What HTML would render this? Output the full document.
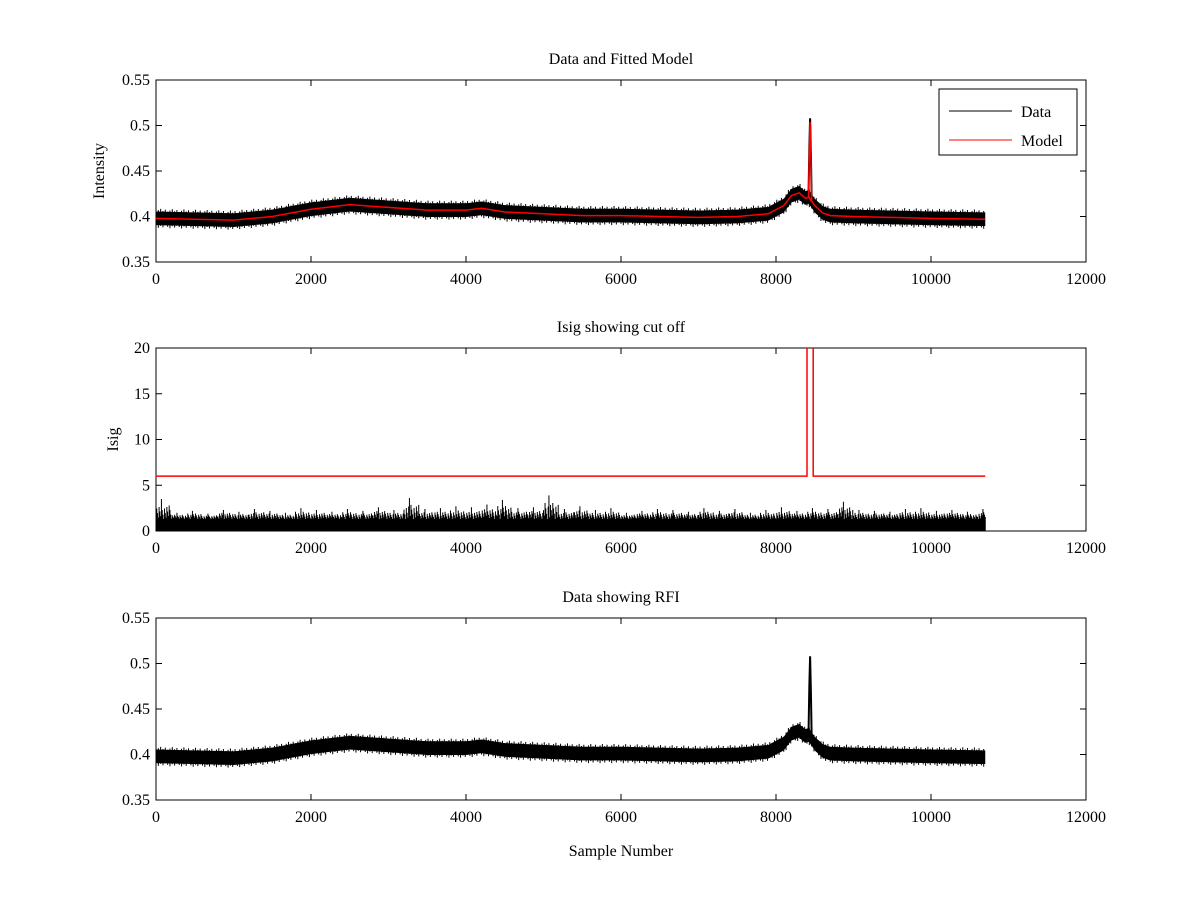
<!DOCTYPE html>
<html><head><meta charset="utf-8"><style>
body{margin:0;background:#fff}
svg text{font-family:"Liberation Serif",serif;fill:#000}
</style></head><body>
<svg width="1200" height="900" xmlns="http://www.w3.org/2000/svg" id="fig"></svg>
<script>
// ---- data ----
const baseX = [0,500,1000,1500,2000,2500,3000,3500,4000,4200,4500,5000,5500,6000,6500,7000,7500,7900,8100,8200,8300,8380,8420,8500,8600,8700,9000,9500,10000,10700];
const baseY = [0.398,0.397,0.396,0.400,0.408,0.413,0.410,0.407,0.407,0.409,0.405,0.403,0.401,0.401,0.400,0.399,0.400,0.403,0.412,0.423,0.426,0.420,0.422,0.412,0.404,0.401,0.400,0.399,0.398,0.397];
const bandHalf = 0.0075;
const edgeHalf = 0.0105;
const rfiX = [8420,8430,8440,8450,8460];
const rfiY = [0.425,0.475,0.508,0.470,0.420];
const intTicks = [0.35,0.4,0.45,0.5,0.55];
const xTicks = [0,2000,4000,6000,8000,10000,12000];
const isigTicks = [0,5,10,15,20];
const isigCut = 6;
const isigCutGapX = [8400,8480];
const isigBase = 1.3;
const isigSpikes = [3.5,2.0,2.2,1.9,2.3,2.1,2.4,2.2,2.0,2.5,2.3,2.1,2.4,2.2,2.6,2.3,3.6,2.4,2.5,2.7,2.6,2.9,3.4,2.5,2.6,3.9,2.4,2.7,2.3,2.5,2.0,2.2,2.4,2.3,2.1,2.5,2.2,2.4,2.0,2.3,2.6,2.2,2.5,2.4,3.2,2.3,2.2,2.1,2.4,2.5,2.2,2.3,2.1,2.4];
const isigSpikeStep = 200;

// ---- drawing ----
const svg = document.getElementById('fig');
const NS = 'http://www.w3.org/2000/svg';
function mk(tag, attrs, parent){const e=document.createElementNS(NS,tag);for(const k in attrs)e.setAttribute(k,attrs[k]);(parent||svg).appendChild(e);return e;}
const X0=156,X1=1086;
const sx = v => X0 + v/12000*(X1-X0);
function interp(x){for(let i=0;i<baseX.length-1;i++){if(x<=baseX[i+1]){const t=(x-baseX[i])/(baseX[i+1]-baseX[i]);return baseY[i]+t*(baseY[i+1]-baseY[i]);}}return baseY[baseY.length-1];}

function axes(name, top, bot, ymin, ymax, yticks, title, ylabel, xlabel){
  const sy = v => bot - (v-ymin)/(ymax-ymin)*(bot-top);
  const g = mk('g',{});
  
  
  const box = mk('rect',{x:X0,y:top,width:X1-X0,height:bot-top,fill:'#fff',stroke:'#000','stroke-width':1},g);
  
  
  xTicks.forEach(t=>{
    const x=sx(t);
    mk('line',{x1:x,x2:x,y1:bot,y2:bot-6,stroke:'#000'},g);
    mk('line',{x1:x,x2:x,y1:top,y2:top+6,stroke:'#000'},g);
    const tx=mk('text',{x:x,y:bot+22,'text-anchor':'middle','font-size':16},g);
    tx.textContent=t;
    
    
  });
  yticks.forEach(t=>{
    const y=sy(t);
    mk('line',{x1:X0,x2:X0+6,y1:y,y2:y,stroke:'#000'},g);
    mk('line',{x1:X1,x2:X1-6,y1:y,y2:y,stroke:'#000'},g);
    const tx=mk('text',{x:X0-6,y:y+5,'text-anchor':'end','font-size':16},g);
    tx.textContent=t;
    
    
  });
  const tt=mk('text',{x:(X0+X1)/2,y:top-16,'text-anchor':'middle','font-size':16},g);
  tt.textContent=title;
  
  
  if(ylabel){
    const yl=mk('text',{x:0,y:0,'text-anchor':'middle','font-size':16,transform:`translate(${ylabel[1]},${(top+bot)/2}) rotate(-90)`},g);
    yl.textContent=ylabel[0];
    
    
  }
  if(xlabel){
    const xl=mk('text',{x:(X0+X1)/2,y:bot+56,'text-anchor':'middle','font-size':16},g);
    xl.textContent=xlabel;
    
    
  }
  return {g,sy};
}

function band(ax, name){
  let up=[],lo=[];
  for(let x=0;x<=10700;x+=25){const v=interp(x);up.push(sx(x)+','+ax.sy(v+bandHalf));lo.unshift(sx(x)+','+ax.sy(v-bandHalf));}
  const p=mk('polygon',{points:up.concat(lo).join(' '),fill:'#000'},ax.g);
  
  
  // ragged edges
  let d='';
  for(let x=0;x<=10700;x+=30){
    const v=interp(x);
    const k=(Math.floor(x/30)*7)%5;
    const e=bandHalf+(edgeHalf-bandHalf)*k/4;
    d+=`M${sx(x)},${ax.sy(v+e)}V${ax.sy(v-(bandHalf+(edgeHalf-bandHalf)*((k+2)%5)/4))}`;
  }
  const ed=mk('path',{d:d,stroke:'#000','stroke-width':1,fill:'none'},ax.g);
  
  
  const r=mk('polyline',{points:rfiX.map((x,i)=>sx(x)+','+ax.sy(rfiY[i])).join(' '),fill:'none',stroke:'#000','stroke-width':2},ax.g);
  
  
}

// Plot 1
const a1=axes('data-model-plot',80,262,0.35,0.55,intTicks,'Data and Fitted Model',['Intensity',104]);
band(a1,'data-series');
{
  let pts=[];
  baseX.forEach((x,i)=>{pts.push(sx(x)+','+a1.sy(baseY[i]));});
  const idx=pts.findIndex((p,i)=>baseX[i]>=8420);
  const spike=rfiX.map((x,i)=>sx(x)+','+a1.sy(rfiY[i]-0.004));
  pts.splice(idx,0,...spike);
  const m=mk('polyline',{points:pts.join(' '),fill:'none',stroke:'#f00','stroke-width':1.5},a1.g);
  
  
  const lg=mk('g',{},a1.g);
  
  
  mk('rect',{x:939,y:89,width:138,height:66,fill:'#fff',stroke:'#000'},lg);
  mk('line',{x1:949,x2:1012,y1:111,y2:111,stroke:'#000'},lg);
  mk('line',{x1:949,x2:1012,y1:140,y2:140,stroke:'#f00'},lg);
  const t1=mk('text',{x:1021,y:117,'font-size':16},lg);t1.textContent='Data';
  
  
  const t2=mk('text',{x:1021,y:146,'font-size':16},lg);t2.textContent='Model';
  
  
}

// Plot 2
const a2=axes('isig-plot',348,531,0,20,isigTicks,'Isig showing cut off',['Isig',118]);
{
  const f=mk('rect',{x:sx(0),y:a2.sy(isigBase),width:sx(10700)-sx(0),height:a2.sy(0)-a2.sy(isigBase),fill:'#000'},a2.g);
  
  
  let d='';
  isigSpikes.forEach((v,i)=>{
    const x0=i*isigSpikeStep;
    for(let k=0;k<20;k++){
      const x=x0+k*10; if(x>10700)break;
      const frac=((k*37+i*11)%10)/10;
      const h=isigBase+(v-isigBase)*(k===7?1:frac*0.75);
      d+=`M${sx(x)},${a2.sy(0)}V${a2.sy(h)}`;
    }
  });
  const s=mk('path',{d:d,stroke:'#000','stroke-width':1,fill:'none'},a2.g);
  
  
  const yc=a2.sy(isigCut);
  const c=mk('path',{d:`M${sx(0)},${yc}H${sx(isigCutGapX[0])}V${a2.sy(20)}M${sx(isigCutGapX[1])},${a2.sy(20)}V${yc}H${sx(10700)}`,stroke:'#f00','stroke-width':1.5,fill:'none'},a2.g);
  
  
}

// Plot 3
const a3=axes('rfi-plot',618,800,0.35,0.55,intTicks,'Data showing RFI',null,'Sample Number');
band(a3,'rfi-data-series');
</script>
</body></html>
